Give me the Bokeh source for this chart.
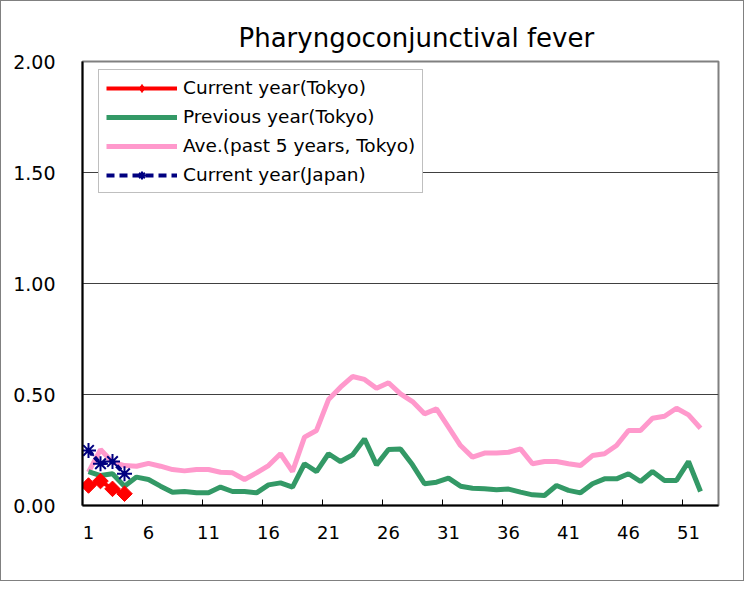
import math
from bokeh.plotting import figure
from bokeh.models import (Range1d, FixedTicker, Legend, LegendItem, CustomJSTickFormatter)
from bokeh.embed import file_html
from bokeh.resources import INLINE

# ---------------- data ----------------
weeks = list(range(1, 53))
current_weeks = [1, 2, 3, 4]
current_tokyo = [0.09, 0.11, 0.075, 0.053]
current_japan = [0.248, 0.188, 0.198, 0.143]
previous_tokyo = [0.153, 0.135, 0.143, 0.087, 0.128, 0.117, 0.087, 0.060, 0.063, 0.057,
                  0.057, 0.083, 0.063, 0.063, 0.057, 0.093, 0.102, 0.083, 0.188, 0.153,
                  0.233, 0.198, 0.228, 0.300, 0.183, 0.252, 0.255, 0.183, 0.098, 0.105,
                  0.123, 0.087, 0.078, 0.075, 0.071, 0.074, 0.060, 0.048, 0.045, 0.090,
                  0.068, 0.057, 0.098, 0.120, 0.120, 0.143, 0.108, 0.153, 0.113, 0.113,
                  0.198, 0.063]
avg5_tokyo = [0.150, 0.252, 0.195, 0.180, 0.177, 0.190, 0.177, 0.162, 0.156, 0.162,
              0.162, 0.150, 0.147, 0.117, 0.147, 0.180, 0.233, 0.153, 0.308, 0.338,
              0.477, 0.533, 0.581, 0.568, 0.528, 0.553, 0.503, 0.468, 0.413, 0.435,
              0.353, 0.270, 0.218, 0.236, 0.237, 0.240, 0.255, 0.188, 0.198, 0.198,
              0.188, 0.180, 0.225, 0.233, 0.270, 0.338, 0.338, 0.393, 0.402, 0.438,
              0.408, 0.348]
x_label_weeks = [1, 6, 11, 16, 21, 26, 31, 36, 41, 46, 51]
y_ticks = [0.0, 0.5, 1.0, 1.5, 2.0]
n_categories = 53

FONT = "DejaVu Sans"

p = figure(width=744, height=581, output_backend="svg", toolbar_location=None,
           x_range=Range1d(0.5, n_categories + 0.5), y_range=Range1d(0, 2),
           min_border_left=81, min_border_right=27, min_border_top=60, min_border_bottom=77)
p.styles = {"border": "1px solid #808080"}

# off-screen range used only so that the legend can show small markers
p.extra_y_ranges = {"legend_proxy": Range1d(100, 101)}

p.title.text = "Pharyngoconjunctival fever"
p.title.align = "left"
p.title.offset = 156
p.title.text_font = FONT
p.title.text_font_size = "26px"
p.title.text_font_style = "normal"
p.title.text_color = "#000000"
p.title.standoff = 18

p.outline_line_color = "#808080"
p.outline_line_width = 2

# axes
p.xaxis.ticker = FixedTicker(ticks=x_label_weeks,
                             minor_ticks=[w + 4.5 for w in x_label_weeks if w + 4.5 < n_categories])
p.xaxis.major_tick_line_color = None
p.xaxis.minor_tick_in = 6
p.xaxis.minor_tick_out = 0
p.xaxis.minor_tick_line_color = "#000000"
p.xaxis.axis_line_color = "#000000"
p.xaxis.axis_line_width = 2
p.xaxis.major_label_standoff = 14
p.xaxis.major_label_text_font = FONT
p.xaxis.major_label_text_font_size = "18px"
p.xaxis.major_label_text_color = "#000000"

p.yaxis.ticker = FixedTicker(ticks=y_ticks)
p.yaxis.formatter = CustomJSTickFormatter(code="return tick.toFixed(2);")
p.yaxis.major_tick_line_color = None
p.yaxis.minor_tick_line_color = None
p.yaxis.axis_line_color = "#000000"
p.yaxis.axis_line_width = 2
p.yaxis.major_label_standoff = 21
p.yaxis.major_label_text_font = FONT
p.yaxis.major_label_text_font_size = "19px"
p.yaxis.major_label_text_color = "#000000"

p.xgrid.grid_line_color = None
p.ygrid.ticker = FixedTicker(ticks=y_ticks)
p.ygrid.grid_line_color = "#404040"
p.ygrid.grid_line_width = 1

# series
r_avg = p.line(weeks, avg5_tokyo, line_color="#FF99CC", line_width=5)
r_prev = p.line(weeks, previous_tokyo, line_color="#339966", line_width=5)
r_jp_line = p.line(current_weeks, current_japan, line_color="#000080", line_width=4,
                   line_dash="6 3")
r_jp_pts = p.scatter(current_weeks, current_japan, marker="asterisk", size=15,
                     line_color="#000080", line_width=2)
r_cur_line = p.line(current_weeks, current_tokyo, line_color="#FF0000", line_width=4)
r_cur_pts = p.scatter(current_weeks, current_tokyo, marker="square", size=11,
                      angle=math.pi / 4, fill_color="#FF0000", line_color="#FF0000")

# legend-only proxies (drawn on the off-screen range, so invisible in the plot)
leg_cur = p.scatter(current_weeks, current_tokyo, y_range_name="legend_proxy",
                    marker="diamond", size=11,
                    fill_color="#FF0000", line_color="#FF0000")
leg_jp_line = p.line(current_weeks, current_japan, y_range_name="legend_proxy",
                     line_color="#000080", line_width=4, line_dash="8 5")
leg_jp = p.scatter(current_weeks, current_japan, y_range_name="legend_proxy",
                   marker="asterisk", size=11, line_color="#000080", line_width=2)

legend = Legend(items=[
    LegendItem(label="Current year(Tokyo)", renderers=[r_cur_line, leg_cur]),
    LegendItem(label="Previous year(Tokyo)", renderers=[r_prev]),
    LegendItem(label="Ave.(past 5 years, Tokyo)", renderers=[r_avg]),
    LegendItem(label="Current year(Japan)", renderers=[leg_jp_line, leg_jp]),
], location=(16, 312))
legend.border_line_color = "#808080"
legend.border_line_width = 1
legend.background_fill_color = "#FFFFFF"
legend.background_fill_alpha = 1
legend.glyph_width = 71
legend.glyph_height = 20
legend.label_standoff = 6
legend.spacing = 8
legend.padding = 7
legend.margin = 0
legend.label_text_font = FONT
legend.label_text_font_size = "18.5px"
legend.label_text_color = "#000000"
legend.label_height = 20
p.add_layout(legend, "center")

open("out.html", "w").write(file_html(p, INLINE))
